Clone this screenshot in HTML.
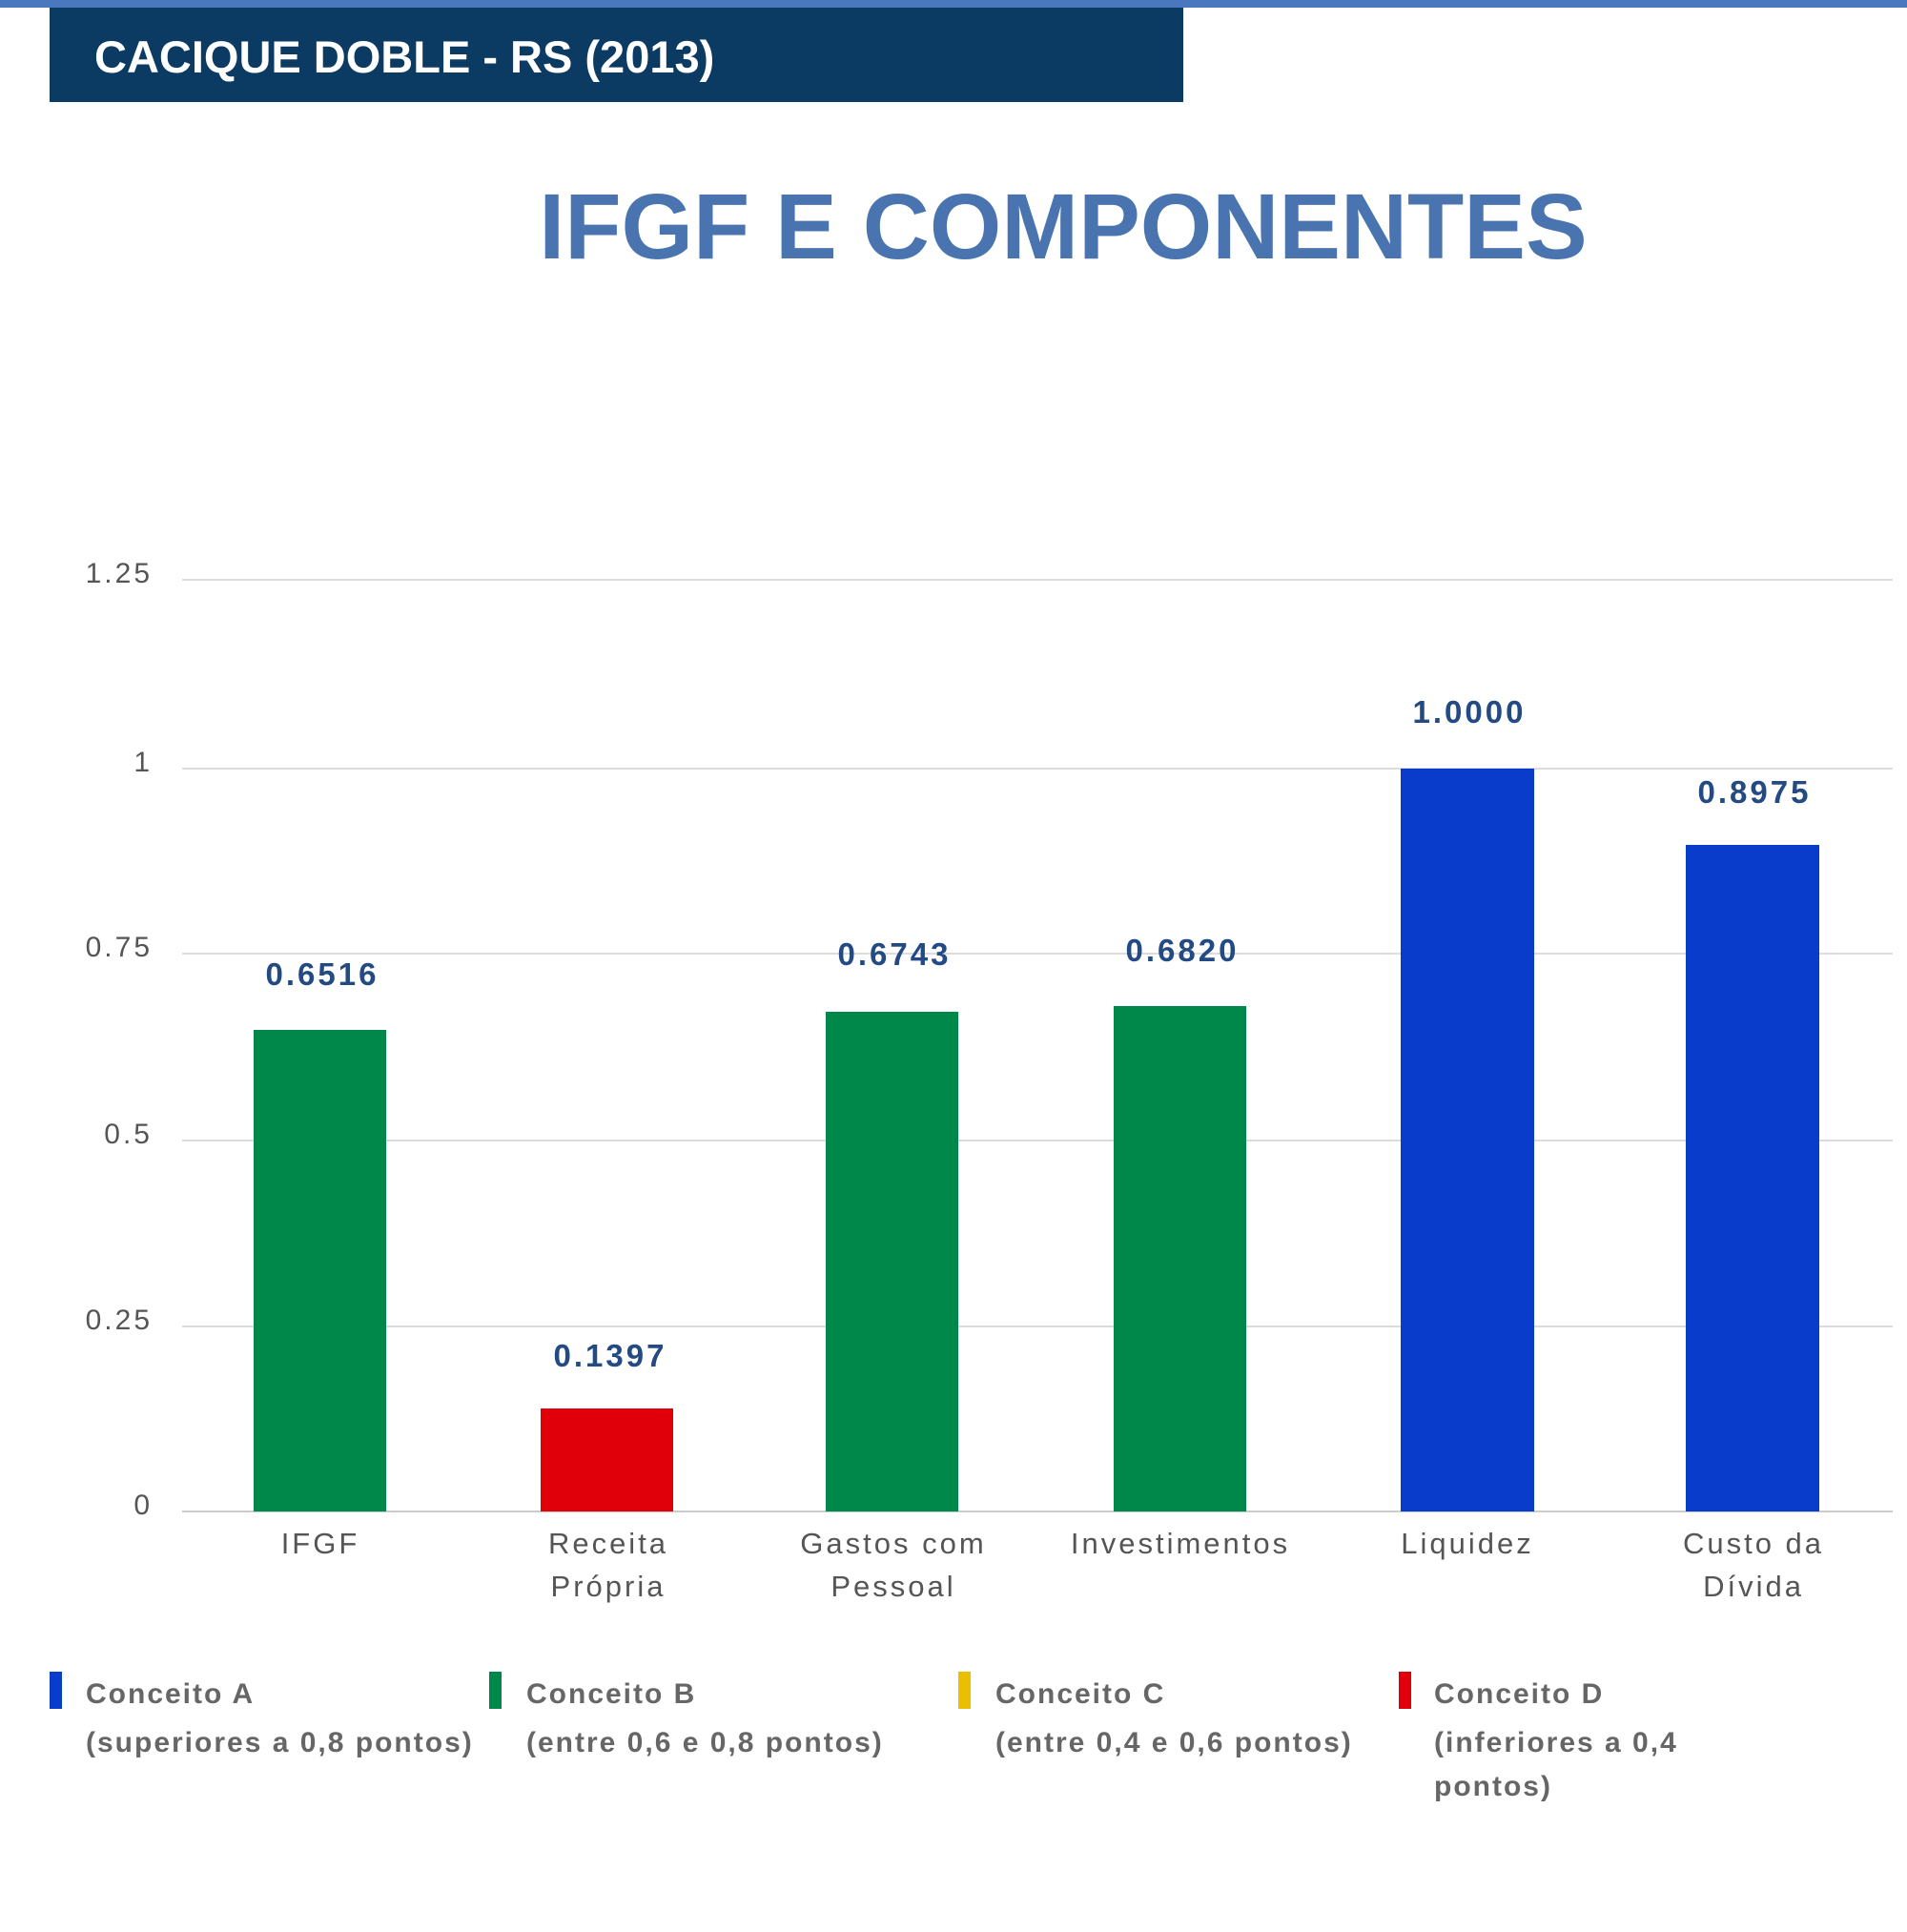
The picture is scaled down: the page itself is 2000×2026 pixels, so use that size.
<!DOCTYPE html>
<html><head><meta charset="utf-8"><style>html,body{margin:0;padding:0;background:#fff}</style></head>
<body>
<svg width="2000" height="2021" viewBox="0 0 2000 2021" xmlns="http://www.w3.org/2000/svg" font-family="Liberation Sans, sans-serif">
<rect x="0" y="0" width="2000" height="8" fill="#4a78bf"/>
<rect x="52" y="8" width="1189" height="99" fill="#0b3a63"/>
<text x="99" y="76" font-size="47" font-weight="bold" fill="#fff">CACIQUE DOBLE - RS (2013)</text>
<text x="1115" y="271" font-size="97" font-weight="bold" fill="#4a74b0" text-anchor="middle">IFGF E COMPONENTES</text>
<g stroke="#dcdcdc" stroke-width="2">
<line x1="191" y1="608" x2="1985" y2="608"/>
<line x1="191" y1="806" x2="1985" y2="806"/>
<line x1="191" y1="1000" x2="1985" y2="1000"/>
<line x1="191" y1="1196" x2="1985" y2="1196"/>
<line x1="191" y1="1391" x2="1985" y2="1391"/>
<line x1="191" y1="1585" x2="1985" y2="1585" stroke="#ccc"/>
</g>
<g font-size="30" fill="#555" text-anchor="end" letter-spacing="3">
<text x="160" y="611">1.25</text><text x="160" y="809">1</text><text x="160" y="1003">0.75</text>
<text x="160" y="1199">0.5</text><text x="160" y="1394">0.25</text><text x="160" y="1588">0</text>
</g>
<rect x="266" y="1080" width="139" height="505" fill="#00874a"/>
<rect x="567" y="1477" width="139" height="108" fill="#e0000a"/>
<rect x="866" y="1061" width="139" height="524" fill="#00874a"/>
<rect x="1168" y="1055" width="139" height="530" fill="#00874a"/>
<rect x="1469" y="806" width="140" height="779" fill="#0a3ccc"/>
<rect x="1768" y="886" width="140" height="699" fill="#0a3ccc"/>
<g font-size="33" font-weight="bold" fill="#234a82" text-anchor="middle" letter-spacing="3">
<text x="338" y="1033">0.6516</text><text x="640" y="1433">0.1397</text>
<text x="938" y="1012">0.6743</text><text x="1240" y="1008">0.6820</text>
<text x="1541" y="758">1.0000</text><text x="1840" y="842">0.8975</text>
</g>
<g font-size="31" fill="#555" text-anchor="middle" letter-spacing="3">
<text x="336" y="1629">IFGF</text>
<text x="638" y="1629">Receita</text><text x="638" y="1674">Própria</text>
<text x="937" y="1629">Gastos com</text><text x="937" y="1674">Pessoal</text>
<text x="1238" y="1629">Investimentos</text>
<text x="1539" y="1629">Liquidez</text>
<text x="1839" y="1629">Custo da</text><text x="1839" y="1674">Dívida</text>
</g>
<rect x="52" y="1753" width="13" height="39" fill="#0a3ccc"/>
<rect x="513" y="1753" width="13" height="39" fill="#00874a"/>
<rect x="1005" y="1753" width="13" height="39" fill="#e8c000"/>
<rect x="1467" y="1753" width="13" height="39" fill="#e0000a"/>
<g font-size="30" font-weight="bold" fill="#666" letter-spacing="2">
<text x="90" y="1786">Conceito A</text><text x="90" y="1837">(superiores a 0,8 pontos)</text>
<text x="552" y="1786">Conceito B</text><text x="552" y="1837">(entre 0,6 e 0,8 pontos)</text>
<text x="1044" y="1786">Conceito C</text><text x="1044" y="1837">(entre 0,4 e 0,6 pontos)</text>
<text x="1504" y="1786">Conceito D</text><text x="1504" y="1837">(inferiores a 0,4</text><text x="1504" y="1883">pontos)</text>
</g>
</svg>
</body></html>
